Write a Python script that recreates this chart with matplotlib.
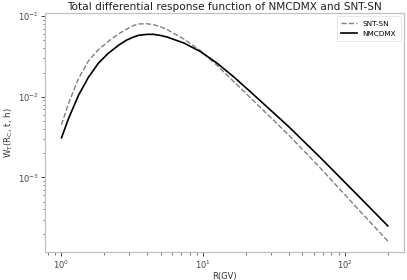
import matplotlib
matplotlib.use('Agg')
import matplotlib.pyplot as plt

# rigidity (GV) and response values
rigidity = [1.0, 1.12, 1.32, 1.55, 1.82, 2.14, 2.52, 2.88, 3.2, 3.5, 4.0, 4.45,
            5.0, 5.55, 7.3, 9.5, 12.5, 16.3, 21.4, 40, 68.5, 118, 200]
nmcdmx = [3.1e-3, 5.35e-3, 1.05e-2, 1.75e-2, 2.61e-2, 3.47e-2, 4.34e-2, 5.05e-2,
          5.48e-2, 5.79e-2, 5.94e-2, 5.95e-2, 5.76e-2, 5.51e-2, 4.64e-2, 3.65e-2,
          2.61e-2, 1.78e-2, 1.16e-2, 4.26e-3, 1.69e-3, 6.42e-4, 2.5e-4]
sntsn = [4.5e-3, 8.25e-3, 1.69e-2, 2.8e-2, 3.84e-2, 4.87e-2, 6.01e-2, 6.9e-2,
         7.62e-2, 8.0e-2, 8.05e-2, 7.85e-2, 7.37e-2, 6.82e-2, 5.2e-2, 3.76e-2,
         2.45e-2, 1.56e-2, 9.8e-3, 3.35e-3, 1.25e-3, 4.4e-4, 1.62e-4]

fig = plt.figure(figsize=(4.07, 2.8), dpi=100)
ax = fig.add_axes([0.111, 0.10, 0.882, 0.854])

ax.plot(rigidity, sntsn, '--', color='#808080', linewidth=1.0, label='SNT-SN')
ax.plot(rigidity, nmcdmx, '-', color='black', linewidth=1.2, label='NMCDMX')

ax.set_xscale('log')
ax.set_yscale('log')

ax.set_title('Total differential response function of NMCDMX and SNT-SN',
             fontsize=7.6, color='#222222', pad=2)
ax.set_xlabel('R(GV)', fontsize=6, color='#333333', labelpad=1)
ax.set_ylabel('W$_{\\rm T}$(R$_{\\rm C}$, t, h)', fontsize=6.2, color='#333333', labelpad=2)

for s in ax.spines.values():
    s.set_color('#c0c0c0')
    s.set_linewidth(0.9)
ax.tick_params(which='both', colors='#444444', labelsize=6, pad=1.5)
ax.tick_params(which='major', length=3, width=0.7)
ax.tick_params(which='minor', length=1.8, width=0.5)

leg = ax.legend(loc='upper right', fontsize=5.2, frameon=True, handlelength=2.2,
                borderpad=0.6, labelspacing=0.5)
leg.get_frame().set_edgecolor('#dddddd')
leg.get_frame().set_linewidth(0.6)

fig.savefig('out.png', dpi=100)
